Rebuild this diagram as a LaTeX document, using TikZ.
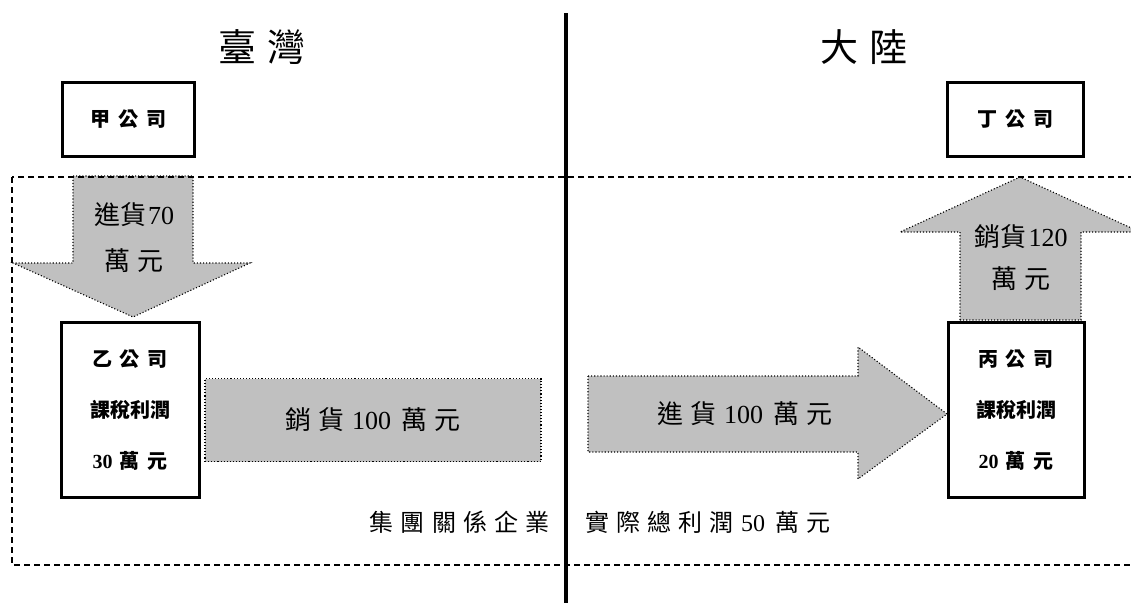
\documentclass[tikz,border=0pt]{standalone}
\usepackage{fontspec}
\setmainfont{Liberation Serif}
\newfontfamily\zhplain{Noto Sans CJK TC}
\newfontfamily\zhsp[LetterSpace=30]{Noto Sans CJK TC}
\newfontfamily\zhwide[LetterSpace=40]{Noto Sans CJK TC}
\newcommand\pregap{\hspace{7pt}}
\newcommand\postgap{\hspace{10pt}}
\definecolor{arrowgray}{RGB}{192,192,192}
\begin{document}
\begin{tikzpicture}[x=1pt,y=-1pt,
  company/.style={draw=black, line width=3pt, fill=white, inner sep=0pt, align=center,
    font=\fontsize{20}{51}\selectfont\bfseries},
  blockarrow/.style={fill=arrowgray, draw=black, line width=1.1pt, dotted},
  arrowtext/.style={inner sep=0pt, font=\fontsize{26}{30}\selectfont},
  region/.style={font=\fontsize{38}{44}\selectfont, inner sep=0pt},
  foot/.style={font=\fontsize{24}{28}\selectfont, inner sep=0pt},
  groupline/.style={draw=black, line width=1.3pt, dash pattern=on 6pt off 4pt},
  border/.style={draw=black, line width=4pt}]
\useasboundingbox (0,0) rectangle (1131,603);

% block arrows
\draw[blockarrow] (73,176) -- (193,176) -- (193,263) -- (250,263) -- (133,317)
  -- (13,263) -- (73,263) -- cycle;
\node[arrowtext] (in70a) at (134,215) {{\zhplain 進貨}\hspace{2pt}70};
\node[arrowtext] (in70b) at (134,261) {\zhsp 萬元};

\draw[blockarrow] (960,320) -- (960,232) -- (900,232) -- (1020,177) -- (1140,232)
  -- (1081,232) -- (1081,320) -- cycle;
\node[arrowtext] (out120a) at (1021,237) {{\zhplain 銷貨}\hspace{2pt}120};
\node[arrowtext] (out120b) at (1021,279) {\zhsp 萬元};

\node[blockarrow, minimum width=336pt, minimum height=83pt, inner sep=0pt]
  (sale) at (373,420) {};
\node[arrowtext] (saletext) at (sale) {{\zhsp 銷貨}\pregap100\postgap{\zhsp 萬元}};

\draw[blockarrow] (588,376) -- (858,376) -- (858,347) -- (947,414) -- (858,479)
  -- (858,452) -- (588,452) -- cycle;
\node[arrowtext] (buytext) at (745,414) {{\zhsp 進貨}\pregap100\postgap{\zhsp 萬元}};

% group boundary
\draw[groupline] (12,177) rectangle (1145,565);

% border between regions
\coordinate (btop) at (566,13);
\coordinate (bbot) at (566,603);
\draw[border] (btop) -- (bbot);

% region titles
\node[region] (tw) at (262,47) {\zhsp 臺灣};
\node[region] (cn) at (864,47) {\zhsp 大陸};

% companies
\node[company, minimum width=132pt, minimum height=74pt] (jia) at (128,119) {\zhwide 甲公司};
\node[company, minimum width=136pt, minimum height=74pt] (ding) at (1015,119) {\zhwide 丁公司};
\node[company, minimum width=138pt, minimum height=175pt] (yi) at (130,410)
  {{\zhwide 乙公司}\\{\zhplain 課稅利潤}\\30\hspace{7pt}{\zhwide 萬元}};
\node[company, minimum width=136pt, minimum height=175pt] (bing) at (1016,410)
  {{\zhwide 丙公司}\\{\zhplain 課稅利潤}\\20\hspace{7pt}{\zhwide 萬元}};

% footer
\node[foot, anchor=east] (grp) at (550,522) {\zhsp 集團關係企業};
\node[foot, anchor=west] (tot) at (585,522) {{\zhsp 實際總利潤}\pregap50\postgap{\zhsp 萬元}};
\end{tikzpicture}
\end{document}
